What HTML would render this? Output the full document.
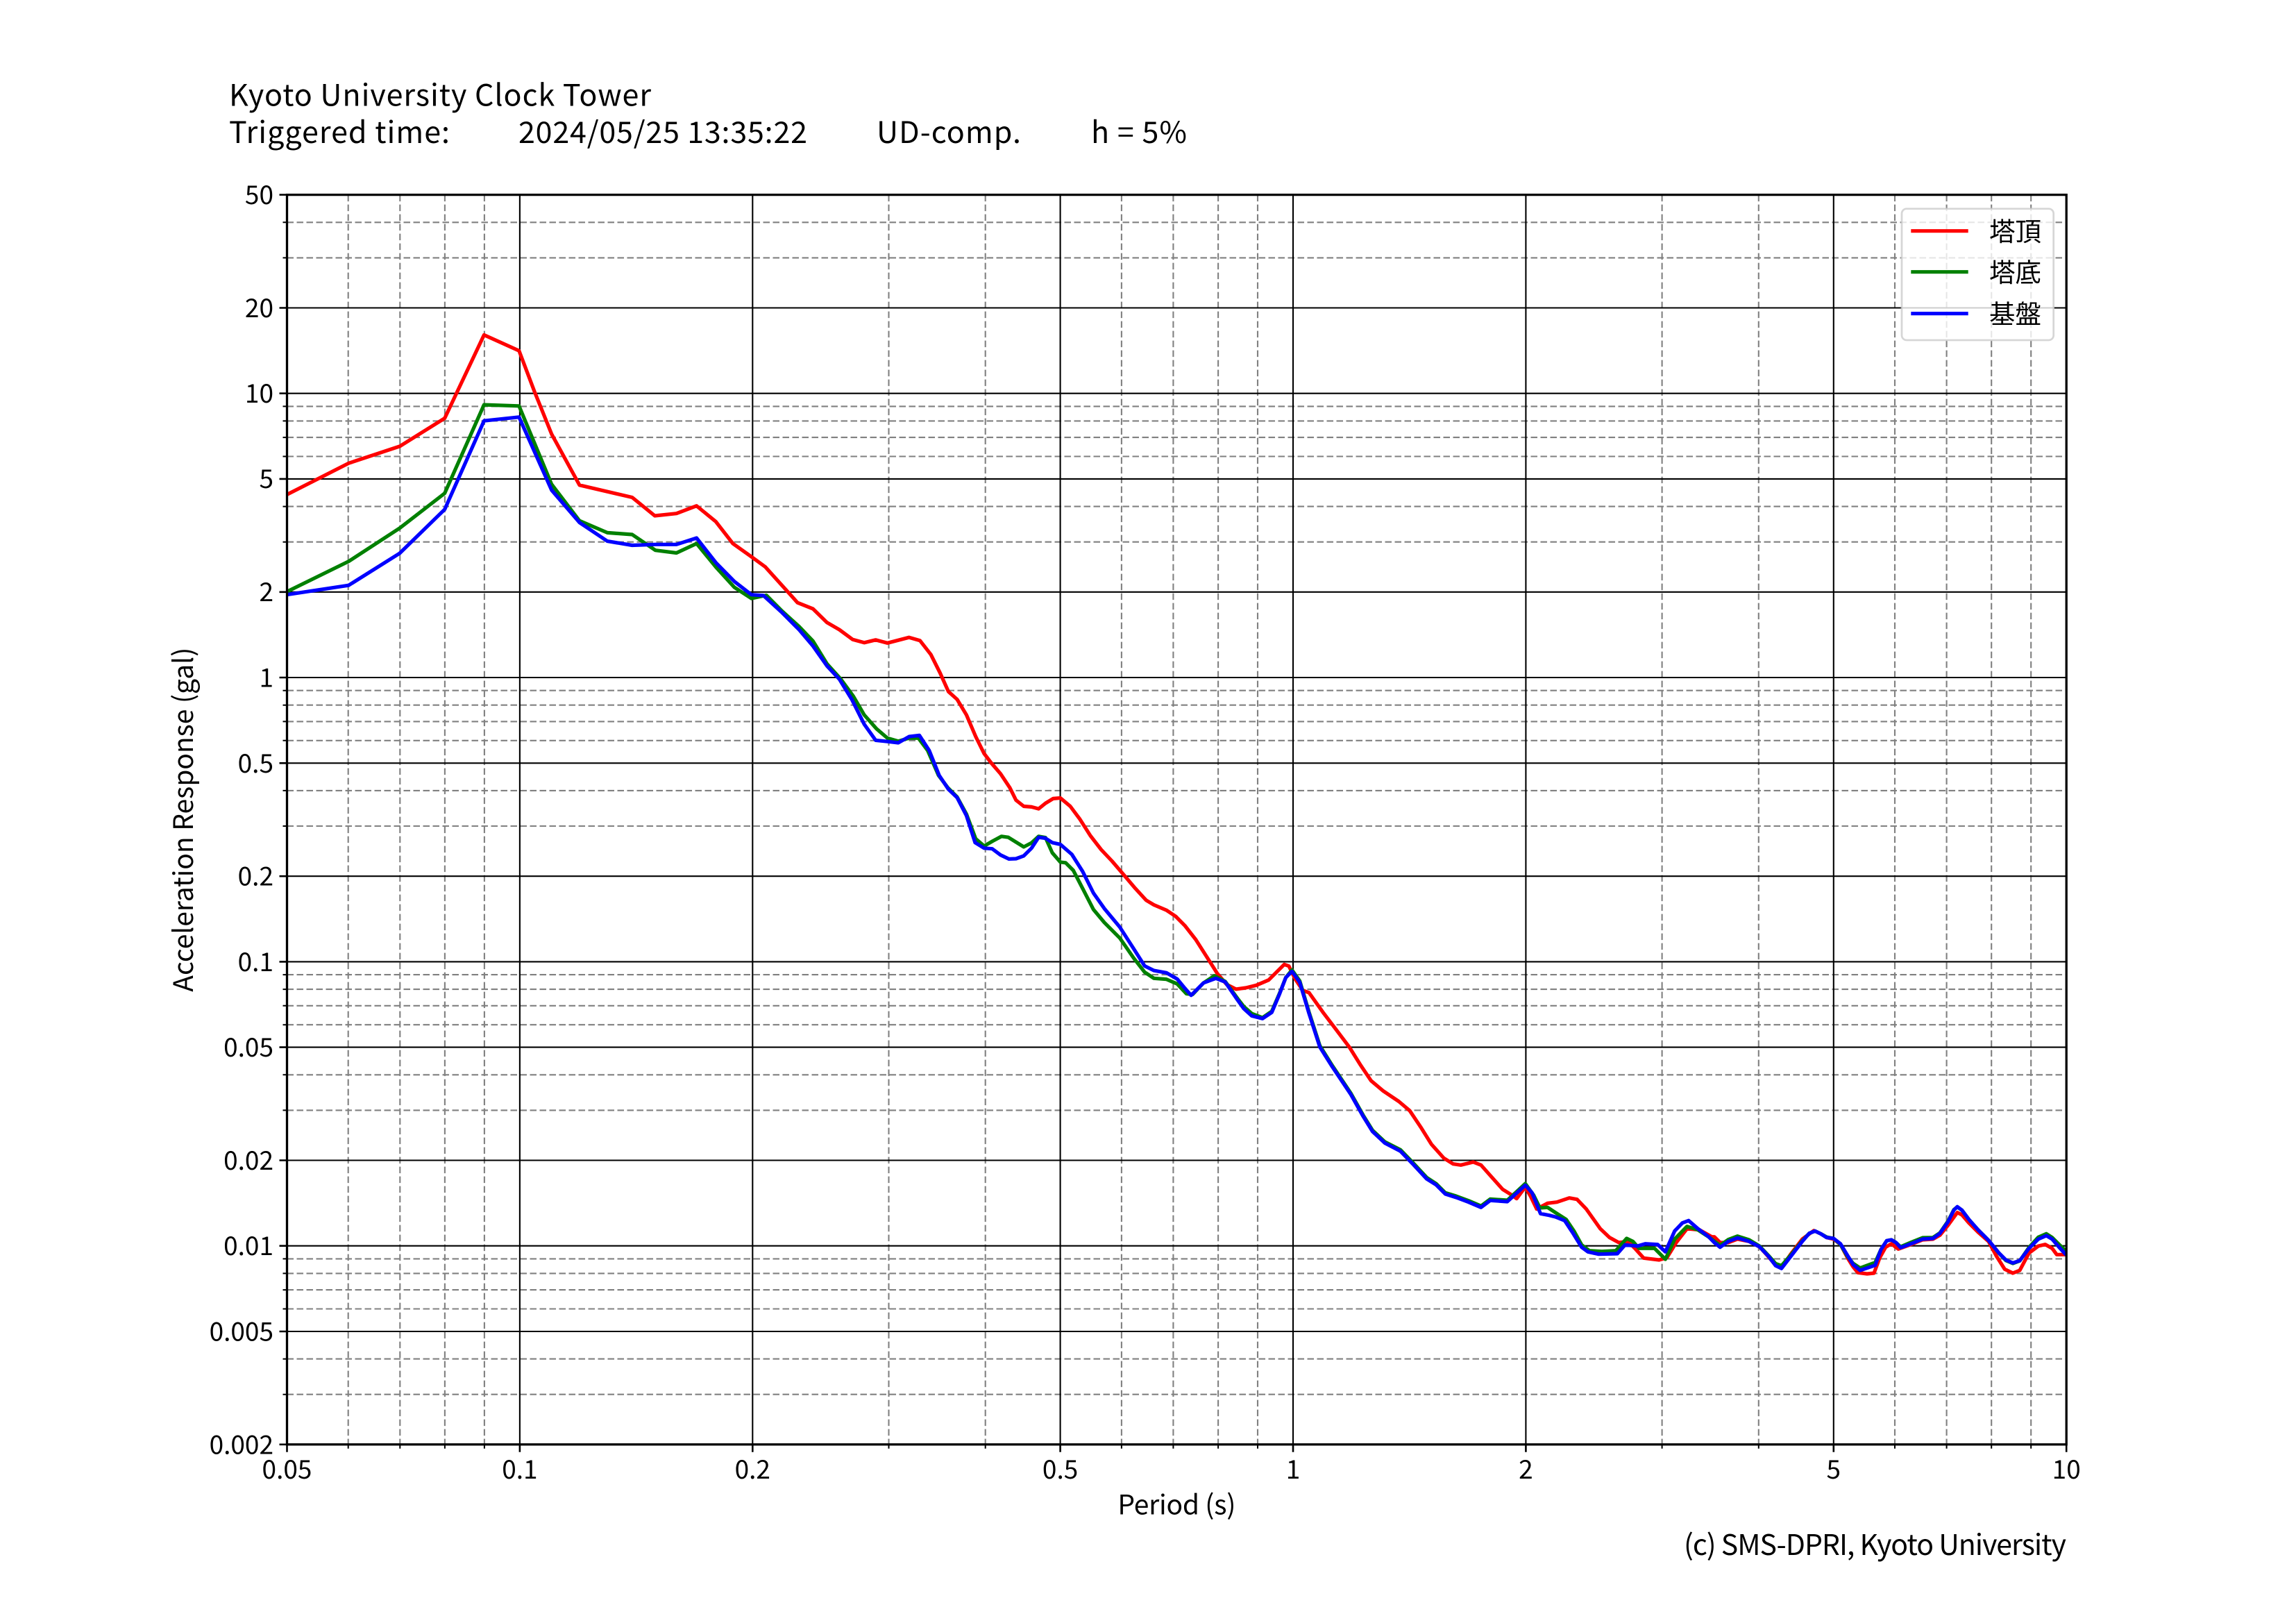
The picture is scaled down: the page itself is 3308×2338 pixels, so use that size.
<!DOCTYPE html>
<html>
<head>
<meta charset="utf-8">
<style>
html,body{margin:0;padding:0;background:#fff;}
svg{display:block;}
text{font-family:"Noto Sans CJK JP","Liberation Sans",sans-serif;fill:#000;}
</style>
</head>
<body>
<svg xmlns="http://www.w3.org/2000/svg" width="3308" height="2338" viewBox="0 0 3308 2338">
<rect x="0" y="0" width="3308" height="2338" fill="#fff"/>
<defs>
<clipPath id="ax"><rect x="413.5" y="280.6" width="2563.7" height="1800.2"/></clipPath>
</defs>

<!-- Title -->
<text x="330" y="152.3" font-size="43" textLength="608">Kyoto University Clock Tower</text>
<text x="330" y="206" font-size="43" textLength="318">Triggered time:</text>
<text x="747" y="206" font-size="43" textLength="416">2024/05/25 13:35:22</text>
<text x="1263" y="206" font-size="43" textLength="208">UD-comp.</text>
<text x="1572" y="206" font-size="43" textLength="138">h = 5%</text>

<!-- minor dashed grid -->
<g stroke="#808080" stroke-width="2.1" stroke-dasharray="9.5 4.5" fill="none">
<path d="M501.7 280.6V2080.8M576.3 280.6V2080.8M640.9 280.6V2080.8M697.9 280.6V2080.8M1280.5 280.6V2080.8M1419.7 280.6V2080.8M1615.9 280.6V2080.8M1690.4 280.6V2080.8M1755.1 280.6V2080.8M1812 280.6V2080.8M2394.6 280.6V2080.8M2533.8 280.6V2080.8M2730 280.6V2080.8M2804.6 280.6V2080.8M2869.2 280.6V2080.8M2926.2 280.6V2080.8"/>
<path d="M413.5 320.3H2977.2M413.5 371.4H2977.2M413.5 585.4H2977.2M413.5 606.4H2977.2M413.5 630.1H2977.2M413.5 657.5H2977.2M413.5 729.6H2977.2M413.5 780.7H2977.2M413.5 994.7H2977.2M413.5 1015.7H2977.2M413.5 1039.4H2977.2M413.5 1066.8H2977.2M413.5 1138.9H2977.2M413.5 1190H2977.2M413.5 1404.1H2977.2M413.5 1425.1H2977.2M413.5 1448.8H2977.2M413.5 1476.2H2977.2M413.5 1548.3H2977.2M413.5 1599.4H2977.2M413.5 1813.4H2977.2M413.5 1834.4H2977.2M413.5 1858.1H2977.2M413.5 1885.5H2977.2M413.5 1957.6H2977.2M413.5 2008.7H2977.2"/>
</g>
<!-- major solid grid -->
<g stroke="#000" stroke-width="2.1" fill="none">
<path d="M748.9 280.6V2080.8M1084.3 280.6V2080.8M1527.6 280.6V2080.8M1863 280.6V2080.8M2198.4 280.6V2080.8M2641.8 280.6V2080.8"/>
<path d="M413.5 443.5H2977.2M413.5 566.7H2977.2M413.5 689.9H2977.2M413.5 852.8H2977.2M413.5 976H2977.2M413.5 1099.3H2977.2M413.5 1262.2H2977.2M413.5 1385.4H2977.2M413.5 1508.6H2977.2M413.5 1671.5H2977.2M413.5 1794.7H2977.2M413.5 1918H2977.2"/>
</g>

<!-- curves -->
<g clip-path="url(#ax)" fill="none" stroke-width="5.2" stroke-linejoin="round" stroke-linecap="round">
<polyline stroke="#ff0000" points="413,712.7 502.3,667.3 576,642.9 640.7,602.5 697.4,482.5 747.8,505.2 770.1,564.2 794.7,625.2 834.9,698.8 910.8,716.5 943.4,743 974.6,739.7 1003.6,728.7 1031.3,751.4 1055.9,783 1082.6,802 1102.7,816.7 1149.1,868.2 1171.4,877.1 1191.5,896.8 1209.4,907.1 1228.6,921.3 1245.1,925.8 1261.6,921.8 1278.6,926.3 1309.8,918.2 1325.4,922.7 1341.1,942.8 1354.5,969.6 1366.5,996.3 1379,1007.5 1392.4,1029.8 1405.8,1061.1 1417.9,1085.6 1428.1,1099 1441.5,1114.6 1454.9,1134.7 1463.8,1152.6 1475,1161.5 1486.2,1162.4 1496.4,1165.1 1506.3,1157.1 1517.4,1150.4 1527.7,1149.5 1542,1161.5 1555.4,1179.4 1571,1203.9 1586.6,1224 1602.2,1240.5 1617.9,1258.8 1635.7,1279.8 1651.3,1296.8 1662.5,1303.5 1680.4,1311.1 1693.8,1320 1707.1,1333.4 1722.8,1353.5 1738.4,1378 1754,1402.6 1767.4,1418.2 1780.8,1424.9 1795,1423 1810.1,1419.3 1827.9,1411.7 1841.3,1398.3 1850.3,1389.3 1857,1391.7 1865.9,1410 1877.1,1426.7 1886,1430 1906.1,1458.3 1923.9,1481.7 1944,1508.3 1959.6,1533.3 1975.3,1556.7 1993.1,1571.7 2015.4,1586.7 2031.1,1600 2046.7,1623.3 2062.3,1648.3 2080.2,1668.3 2093.6,1676.7 2104.7,1678.3 2122.6,1674 2133.8,1678.3 2147.1,1693.3 2165,1713.3 2178.4,1721.7 2185.1,1726.7 2197.6,1710 2205.2,1723.3 2214.1,1741.7 2229.7,1733.3 2243.1,1731.7 2261,1725.7 2272.1,1727.7 2285.5,1741.7 2305.6,1770 2319,1782.7 2332.4,1790 2345.8,1788.3 2357,1800 2368.1,1812.3 2390.4,1815 2401.6,1811.7 2415,1790 2430.6,1770 2448.5,1771.7 2466.3,1781.7 2470,1781.7 2478.3,1790 2490,1790 2503.3,1785 2520,1788.3 2535,1796 2548.3,1810.7 2558.3,1822.7 2566.7,1826 2580,1806.7 2596.7,1785 2613.3,1772.7 2623.3,1777.3 2631.7,1782.7 2641.7,1785 2651.7,1792.7 2661.7,1811.7 2670,1825 2676.7,1833.3 2690,1835 2700,1834 2708.3,1811.7 2716.7,1796.7 2725,1791.7 2735,1799.3 2753.3,1792.7 2770,1786 2785,1785 2795,1779.3 2806.7,1765 2820,1746.7 2826.7,1750 2836.7,1761.7 2850,1775 2865,1788.3 2876.7,1810 2888.3,1828.3 2900,1834 2910,1830 2923.3,1805 2936.7,1795 2946.7,1792.7 2956.7,1798.3 2963.3,1807.3 2976,1807.3"/>
<polyline stroke="#008000" points="413,852.5 502.3,808.7 576,760.7 640.7,710.6 697.4,583.1 747.8,584.8 794.7,697.6 834.9,750.2 875.1,767.4 910.8,770 944.3,792.7 974.6,796.5 1003.6,783 1031.3,816.7 1058.1,846.1 1082.6,862.1 1104.1,857.5 1126.8,880.3 1151.3,902.6 1171.4,923.6 1191.5,956.2 1211.6,978.5 1229.5,1003 1245.1,1029.8 1262.9,1049.9 1278.6,1063.3 1294.2,1067.8 1309.8,1063.3 1323.2,1063.3 1336.6,1081.2 1352.2,1116.9 1365.6,1134.7 1379,1148.1 1392.4,1172.7 1405.8,1208.4 1417.9,1218.7 1430.4,1211.5 1442.9,1204.8 1452.7,1206.2 1475,1220 1486.2,1214.2 1496.4,1204.8 1506.3,1206.6 1516.1,1228.5 1527.7,1241.9 1535.3,1242.8 1546.4,1253.9 1559.8,1279.8 1575.4,1310.2 1591.1,1328.9 1613.4,1351.3 1633.5,1380.3 1649.1,1400.4 1662.5,1409.3 1680.4,1410.6 1696,1417.3 1709.4,1431.6 1718.3,1432.5 1733.9,1416 1749.6,1405.7 1765.2,1413.8 1783,1438.3 1792,1450 1803.4,1460 1819,1466 1832.4,1456.7 1843.6,1430.7 1852.5,1408.3 1861.4,1397.3 1872.6,1413 1886,1458 1901.6,1506.3 1919.5,1535 1946.3,1575 1964.1,1606.7 1977.5,1628.3 1995.4,1645 2017.7,1656.3 2035.5,1674.7 2055.6,1696.3 2069,1705 2082.4,1718.3 2098,1723 2115.9,1729.7 2133.8,1737.3 2147.1,1727.3 2171.7,1729 2187.3,1714.7 2197.6,1705 2209.6,1721.7 2218.6,1740 2229.7,1739.3 2240.9,1746.7 2256.5,1756.7 2267.7,1773.3 2278.8,1793.3 2290,1801.7 2307.9,1802.7 2328,1801.7 2343.6,1784 2352.7,1788.3 2361.4,1798.3 2383.8,1798.3 2399.4,1814 2412.8,1785 2430.6,1766.7 2446.3,1771.7 2462,1782 2470,1788 2478.3,1794 2490,1785.7 2503.3,1780.7 2520,1786 2535,1795 2548.3,1809 2558.3,1820.3 2566.7,1823.3 2580,1808 2596.7,1787.3 2606.7,1776.7 2615,1773.3 2623.3,1777.3 2631.7,1782 2641.7,1784 2651.7,1792.7 2661.7,1810 2670,1820 2680,1826.7 2690,1823 2701.7,1818.7 2710,1800 2718.3,1787.3 2725,1786 2731.7,1790 2738.3,1796 2753.3,1789.7 2770,1783 2785,1782.7 2795,1776 2806.7,1759 2815,1742.7 2820,1738.7 2826.7,1743.3 2836.7,1756.7 2850,1771.7 2865,1786.7 2880,1805.3 2890,1815.7 2900,1820 2910,1816.3 2923.3,1797 2936.7,1782.3 2948.3,1777.3 2956.7,1782.7 2966.7,1792.7 2976,1801.7"/>
<polyline stroke="#0000ff" points="413,856.7 502.3,843.2 576,796.9 640.7,733.8 697.4,606.2 747.8,600.8 794.7,706 834.9,752.7 875.1,779.6 910.8,785.5 944.3,784.3 974.6,784.3 1003.6,775 1031.3,810.4 1058.1,837.7 1082.6,856.7 1100,857.9 1126.8,882.5 1151.3,907.1 1171.4,930.7 1191.5,959.3 1209.4,978.5 1227.2,1007.5 1245.1,1043.2 1261.6,1066.4 1278.6,1068.2 1294.2,1070 1309.8,1061.1 1324.6,1059.3 1338.8,1081.2 1353.1,1116.9 1366.5,1137 1379,1149 1392.4,1174.9 1404.9,1213.8 1417.9,1221.8 1429.5,1222.7 1441.5,1231.6 1453.6,1237.4 1463.8,1237 1475,1232.9 1486.2,1221.8 1496.4,1206.2 1506.3,1207.5 1516.1,1213.8 1527.7,1216.4 1544.2,1230.7 1559.8,1255.3 1575.4,1286.5 1591.1,1308.8 1613.4,1335.6 1633.5,1366.9 1649.1,1391.4 1662.5,1398.1 1680.4,1401.3 1696,1410.2 1707.1,1423.6 1716.1,1433.8 1733.9,1416 1751.8,1409.3 1765.2,1414.6 1783,1440.5 1792,1453 1803.4,1463.3 1819,1467.3 1832.4,1458.3 1843.6,1431.7 1852.5,1408.3 1861.4,1399.3 1872.6,1415 1886,1460 1901.6,1508.3 1919.5,1536.7 1946.3,1576.7 1964.1,1608.3 1977.5,1630 1995.4,1646.7 2017.7,1658.3 2035.5,1676.7 2055.6,1698.3 2069,1706.7 2082.4,1720 2098,1725 2115.9,1731.7 2133.8,1739.3 2147.1,1729.3 2171.7,1731 2187.3,1716.7 2197.6,1707.3 2207.4,1718.3 2219.5,1748.3 2232,1750.7 2241,1753 2254.3,1758.3 2265.4,1775 2278.8,1796.7 2287.8,1803.3 2303.4,1806.7 2330.2,1806 2341.3,1793.3 2359.2,1795 2370.4,1791.7 2388.2,1792.7 2399.4,1803.3 2412.8,1773.3 2423.9,1761.7 2432.9,1758.3 2446.3,1770 2461.9,1781.7 2470,1790 2478.3,1796.7 2490,1788.3 2503.3,1783.3 2520,1788.3 2535,1796 2548.3,1810 2558.3,1823.3 2566.7,1827.3 2580,1810 2596.7,1788.3 2606.7,1776.7 2615,1773.3 2623.3,1777.3 2631.7,1782.7 2641.7,1784 2651.7,1791.7 2661.7,1808.3 2670,1821.7 2680,1830 2690,1826.7 2701.7,1822.7 2710,1800 2718.3,1787.3 2725,1786 2731.7,1790 2738.3,1797.3 2753.3,1791.7 2770,1785 2785,1784 2795,1776.7 2806.7,1760 2815,1743.3 2820,1738.3 2826.7,1743.3 2836.7,1756.7 2850,1771.7 2865,1786.7 2880,1805 2890,1815 2900,1819.3 2910,1816 2923.3,1798.3 2936.7,1785 2948.3,1780 2956.7,1785 2966.7,1796.7 2976,1806.7"/>
</g>

<!-- spines -->
<rect x="413.5" y="280.6" width="2563.7" height="1800.2" fill="none" stroke="#000" stroke-width="3.3"/>

<!-- ticks -->
<g stroke="#000" stroke-width="2.6" fill="none">
<path d="M413.5 2080.8v11M748.9 2080.8v11M1084.3 2080.8v11M1527.6 2080.8v11M1863 2080.8v11M2198.4 2080.8v11M2641.8 2080.8v11M2977.2 2080.8v11"/>
<path d="M501.7 2080.8v6M576.3 2080.8v6M640.9 2080.8v6M697.9 2080.8v6M1280.5 2080.8v6M1419.7 2080.8v6M1615.9 2080.8v6M1690.4 2080.8v6M1755.1 2080.8v6M1812 2080.8v6M2394.6 2080.8v6M2533.8 2080.8v6M2730 2080.8v6M2804.6 2080.8v6M2869.2 2080.8v6M2926.2 2080.8v6" stroke-width="2"/>
<path d="M413.5 280.6h-11M413.5 443.5h-11M413.5 566.7h-11M413.5 689.9h-11M413.5 852.8h-11M413.5 976h-11M413.5 1099.3h-11M413.5 1262.2h-11M413.5 1385.4h-11M413.5 1508.6h-11M413.5 1671.5h-11M413.5 1794.7h-11M413.5 1918h-11M413.5 2080.8h-11"/>
<path d="M413.5 320.3h-6M413.5 371.4h-6M413.5 585.4h-6M413.5 606.4h-6M413.5 630.1h-6M413.5 657.5h-6M413.5 729.6h-6M413.5 780.7h-6M413.5 994.7h-6M413.5 1015.7h-6M413.5 1039.4h-6M413.5 1066.8h-6M413.5 1138.9h-6M413.5 1190h-6M413.5 1404.1h-6M413.5 1425.1h-6M413.5 1448.8h-6M413.5 1476.2h-6M413.5 1548.3h-6M413.5 1599.4h-6M413.5 1813.4h-6M413.5 1834.4h-6M413.5 1858.1h-6M413.5 1885.5h-6M413.5 1957.6h-6M413.5 2008.7h-6" stroke-width="2"/>
</g>

<!-- y tick labels -->
<g font-size="37" text-anchor="end">
<text x="394" y="294">50</text>
<text x="394" y="457">20</text>
<text x="394" y="580">10</text>
<text x="394" y="703">5</text>
<text x="394" y="866">2</text>
<text x="394" y="989.5">1</text>
<text x="394" y="1112.8">0.5</text>
<text x="394" y="1275.7">0.2</text>
<text x="394" y="1398.9">0.1</text>
<text x="394" y="1522.1">0.05</text>
<text x="394" y="1685">0.02</text>
<text x="394" y="1808.2">0.01</text>
<text x="394" y="1931.5">0.005</text>
<text x="394" y="2094.3">0.002</text>
</g>

<!-- x tick labels -->
<g font-size="37" text-anchor="middle">
<text x="413.5" y="2130">0.05</text>
<text x="748.9" y="2130">0.1</text>
<text x="1084.3" y="2130">0.2</text>
<text x="1527.6" y="2130">0.5</text>
<text x="1863" y="2130">1</text>
<text x="2198.4" y="2130">2</text>
<text x="2641.8" y="2130">5</text>
<text x="2977.2" y="2130">10</text>
</g>

<!-- axis labels -->
<text x="1695.4" y="2181.7" font-size="39" text-anchor="middle" textLength="170">Period (s)</text>
<text transform="translate(278,1180.7) rotate(-90)" x="0" y="0" font-size="39" text-anchor="middle" textLength="496">Acceleration Response (gal)</text>

<!-- copyright -->
<text x="2977" y="2240" font-size="41" text-anchor="end" textLength="551">(c) SMS-DPRI, Kyoto University</text>

<!-- legend -->
<rect x="2740" y="300.7" width="218.7" height="189.3" rx="7" ry="7" fill="#fff" fill-opacity="0.8" stroke="#cccccc" stroke-opacity="0.8" stroke-width="2.7"/>
<g stroke-width="5.2" fill="none">
<path d="M2753.3 332.7H2835.7" stroke="#ff0000"/>
<path d="M2753.3 391.7H2835.7" stroke="#008000"/>
<path d="M2753.3 451.7H2835.7" stroke="#0000ff"/>
</g>
<g font-size="37.5">
<text x="2866" y="347">塔頂</text>
<text x="2866" y="406">塔底</text>
<text x="2866" y="466">基盤</text>
</g>
</svg>
</body>
</html>
